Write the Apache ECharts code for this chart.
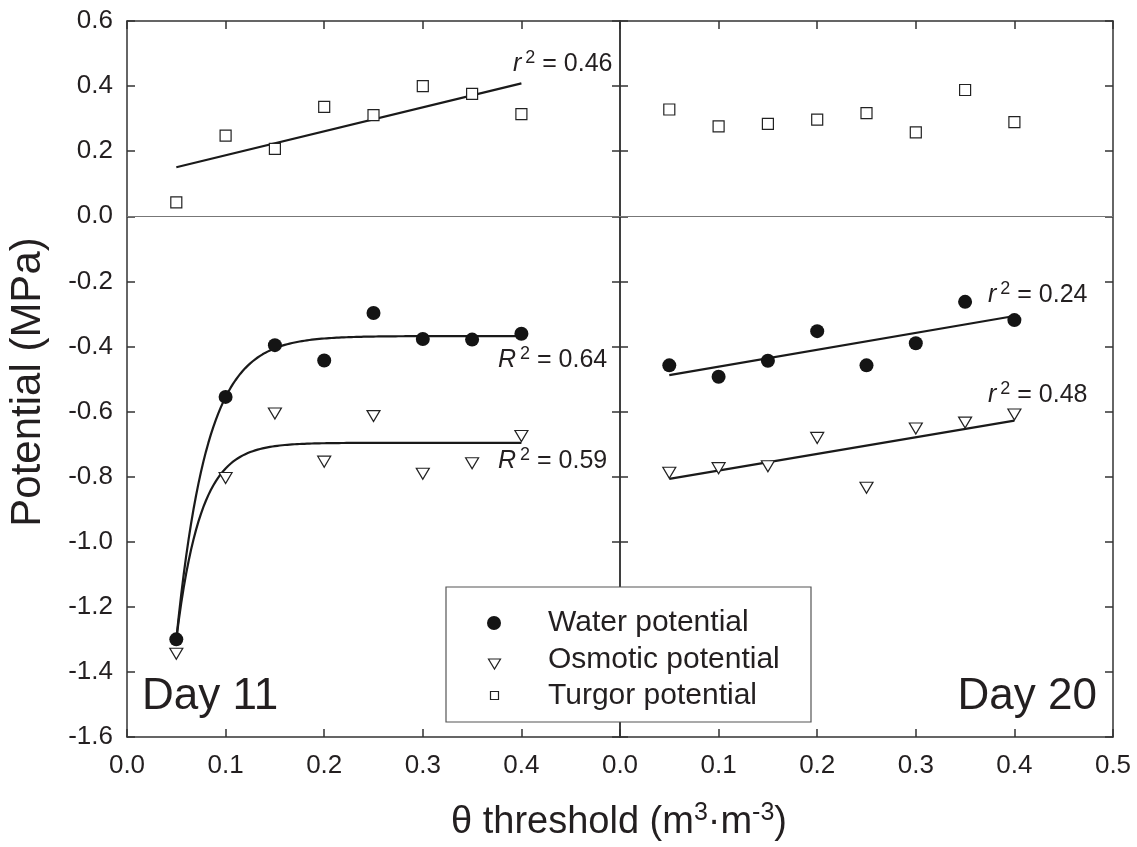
<!DOCTYPE html>
<html>
<head>
<meta charset="utf-8">
<script src="https://cdn.jsdelivr.net/npm/echarts@6/dist/echarts.min.js"></script>
<style>
  html, body { margin: 0; padding: 0; background: #fff; }
  #chart { width: 1137px; height: 847px; }
</style>
</head>
<body>
<div id="chart"></div>
<script>
// θ threshold (m3 m-3)
const thresholds = [0.05, 0.1, 0.15, 0.2, 0.25, 0.3, 0.35, 0.4];

// Day 11 potentials (MPa)
const day11Water = [-1.30, -0.555, -0.396, -0.443, -0.297, -0.377, -0.379, -0.361];
const day11Osmotic = [-1.344, -0.804, -0.606, -0.754, -0.614, -0.791, -0.759, -0.675];
const day11Turgor = [0.043, 0.248, 0.207, 0.336, 0.311, 0.400, 0.376, 0.314];

// Day 20 potentials (MPa)
const day20Water = [-0.458, -0.493, -0.444, -0.353, -0.458, -0.390, -0.263, -0.319];
const day20Osmotic = [-0.788, -0.774, -0.768, -0.681, -0.834, -0.652, -0.634, -0.609];
const day20Turgor = [0.328, 0.276, 0.284, 0.297, 0.317, 0.258, 0.388, 0.289];

// Day 11 exponential rise fits, y = a - b * exp(-k x)
const day11WaterFit = { a: -0.368, b: 4.64, k: 32.1 };
const day11OsmoticFit = { a: -0.696, b: 4.62, k: 40.7 };

const FONT = '"Liberation Sans", Arial, sans-serif';
const INK = '#231f20';

function pairs(ys) {
  return thresholds.map((x, i) => [x, ys[i]]);
}

// least squares line drawn over the sampled thresholds
function linearFit(ys) {
  const n = thresholds.length;
  const mx = thresholds.reduce((s, v) => s + v, 0) / n;
  const my = ys.reduce((s, v) => s + v, 0) / n;
  let sxy = 0, sxx = 0;
  thresholds.forEach((x, i) => { sxy += (x - mx) * (ys[i] - my); sxx += (x - mx) * (x - mx); });
  const slope = sxy / sxx;
  const x0 = thresholds[0], x1 = thresholds[n - 1];
  return [[x0, my + slope * (x0 - mx)], [x1, my + slope * (x1 - mx)]];
}

function expCurve(p) {
  const pts = [];
  const x0 = thresholds[0], x1 = thresholds[thresholds.length - 1];
  for (let i = 0; i <= 140; i++) {
    const x = x0 + (x1 - x0) * i / 140;
    pts.push([x, p.a - p.b * Math.exp(-p.k * x)]);
  }
  return pts;
}

const chart = echarts.init(document.getElementById('chart'));

const frameLine = { show: true, onZero: false, lineStyle: { color: '#333', width: 1.5 } };
const tickIn = { show: true, inside: true, length: 8, lineStyle: { color: '#333', width: 1.5 } };

function xAx(grid, pos, labelFn) {
  return {
    type: 'value', gridIndex: grid, position: pos, min: 0, max: 0.5, interval: 0.1,
    axisLine: frameLine, axisTick: tickIn, splitLine: { show: false },
    axisLabel: labelFn ? {
      show: true, fontSize: 26, fontFamily: FONT, color: INK, margin: 16,
      formatter: labelFn
    } : { show: false }
  };
}
function yAx(grid, pos, showLabels) {
  return {
    type: 'value', gridIndex: grid, position: pos, min: -1.6, max: 0.6, interval: 0.2,
    axisLine: frameLine, axisTick: tickIn, splitLine: { show: false },
    axisLabel: showLabels ? {
      show: true, fontSize: 26, fontFamily: FONT, color: INK, margin: 14,
      formatter: v => v.toFixed(1)
    } : { show: false }
  };
}

const waterStyle = { symbol: 'circle', symbolSize: 14, itemStyle: { color: '#141414', opacity: 1 } };
const osmoticStyle = {
  symbol: 'triangle', symbolRotate: 180, symbolSize: [13, 11],
  itemStyle: { color: '#fff', borderColor: '#222', borderWidth: 1.2, opacity: 1 }
};
const turgorStyle = {
  symbol: 'rect', symbolSize: 11,
  itemStyle: { color: '#fff', borderColor: '#222', borderWidth: 1.2, opacity: 1 }
};
const zeroLine = {
  silent: true, symbol: 'none', label: { show: false },
  lineStyle: { color: '#777', width: 1, type: 'solid' },
  data: [{ yAxis: 0 }]
};

function scatter(name, grid, ys, style, extra) {
  return Object.assign({
    name: name, type: 'scatter', xAxisIndex: grid * 2, yAxisIndex: grid * 2,
    data: pairs(ys), z: 5, silent: true
  }, style, extra || {});
}
function fitLine(grid, pts) {
  return {
    type: 'line', xAxisIndex: grid * 2, yAxisIndex: grid * 2, data: pts,
    showSymbol: false, symbol: 'none', silent: true, z: 3,
    lineStyle: { color: '#1a1a1a', width: 2.2 }
  };
}

// rich label "r² = 0.46" style, placed by its baseline
function fitLabel(x, baseline, letter, value) {
  const fs = 25, lh = 30;
  return {
    type: 'text', x: x, y: baseline - 0.35 * fs - lh / 2, z: 20, silent: true,
    style: {
      text: '{i|' + letter + '}{s|2}{n| = ' + value + '}',
      align: 'left', verticalAlign: 'top',
      rich: {
        i: { fontFamily: FONT, fontSize: fs, fontStyle: 'italic', lineHeight: lh, fill: INK, padding: [0, 4, 0, 0] },
        s: { fontFamily: FONT, fontSize: 18, lineHeight: 22, verticalAlign: 'top', fill: INK },
        n: { fontFamily: FONT, fontSize: fs, lineHeight: lh, fill: INK }
      }
    }
  };
}

const legendText = (y, t) => ({
  type: 'text', x: 548, y: y, z: 31, silent: true,
  style: { text: t, fontFamily: FONT, fontSize: 30, fill: INK, align: 'left', verticalAlign: 'middle' }
});

const option = {
  backgroundColor: '#fff',
  animation: false,
  grid: [
    { left: 127, top: 21, width: 493, height: 716 },
    { left: 620, top: 21, width: 493, height: 716 }
  ],
  xAxis: [
    xAx(0, 'bottom', v => (v > 0.45 ? '' : v.toFixed(1))),
    xAx(0, 'top', null),
    xAx(1, 'bottom', v => v.toFixed(1)),
    xAx(1, 'top', null)
  ],
  yAxis: [
    yAx(0, 'left', true),
    yAx(0, 'right', false),
    yAx(1, 'left', false),
    yAx(1, 'right', false)
  ],
  series: [
    fitLine(0, expCurve(day11WaterFit)),
    fitLine(0, expCurve(day11OsmoticFit)),
    fitLine(0, linearFit(day11Turgor)),
    fitLine(1, linearFit(day20Water)),
    fitLine(1, linearFit(day20Osmotic)),
    scatter('Turgor potential', 0, day11Turgor, turgorStyle, { markLine: zeroLine }),
    scatter('Water potential', 0, day11Water, waterStyle),
    scatter('Osmotic potential', 0, day11Osmotic, osmoticStyle),
    scatter('Turgor potential', 1, day20Turgor, turgorStyle, { markLine: zeroLine }),
    scatter('Water potential', 1, day20Water, waterStyle),
    scatter('Osmotic potential', 1, day20Osmotic, osmoticStyle)
  ],
  graphic: [
    // axis titles
    {
      type: 'text', x: 28, y: 382, rotation: Math.PI / 2, silent: true,
      style: { text: 'Potential (MPa)', fontFamily: FONT, fontSize: 42, fill: INK, align: 'center', verticalAlign: 'middle' }
    },
    {
      type: 'text', x: 619, y: 801, silent: true,
      style: {
        text: '{a|θ threshold (m}{s|3}{a|·m}{s|-3}{a|)}',
        align: 'center', verticalAlign: 'top',
        rich: {
          a: { fontFamily: FONT, fontSize: 38, lineHeight: 44, fill: INK },
          s: { fontFamily: FONT, fontSize: 25, lineHeight: 18, verticalAlign: 'top', fill: INK }
        }
      }
    },
    // panel labels
    {
      type: 'text', x: 142, y: 712 - 0.35 * 44, silent: true, z: 20,
      style: { text: 'Day 11', fontFamily: FONT, fontSize: 44, fill: INK, align: 'left', verticalAlign: 'middle' }
    },
    {
      type: 'text', x: 1097, y: 712 - 0.35 * 44, silent: true, z: 20,
      style: { text: 'Day 20', fontFamily: FONT, fontSize: 44, fill: INK, align: 'right', verticalAlign: 'middle' }
    },
    // fit statistics
    fitLabel(513, 73, 'r', '0.46'),
    fitLabel(498, 369, 'R', '0.64'),
    fitLabel(498, 470, 'R', '0.59'),
    fitLabel(988, 304, 'r', '0.24'),
    fitLabel(988, 404, 'r', '0.48'),
    // legend
    {
      type: 'rect', z: 30, silent: true,
      shape: { x: 446, y: 587, width: 365, height: 135 },
      style: { fill: '#fff', stroke: '#555', lineWidth: 1.2 }
    },
    { type: 'circle', z: 31, silent: true, shape: { cx: 494, cy: 623, r: 7 }, style: { fill: '#141414' } },
    {
      type: 'polygon', z: 31, silent: true,
      shape: { points: [[488.5, 659], [500.5, 659], [494.5, 669]] },
      style: { fill: '#fff', stroke: '#222', lineWidth: 1.2 }
    },
    {
      type: 'rect', z: 31, silent: true,
      shape: { x: 490.5, y: 691.5, width: 8, height: 8 },
      style: { fill: '#fff', stroke: '#222', lineWidth: 1.2 }
    },
    legendText(623, 'Water potential'),
    legendText(660, 'Osmotic potential'),
    legendText(696, 'Turgor potential')
  ]
};

chart.setOption(option);
</script>
</body>
</html>
